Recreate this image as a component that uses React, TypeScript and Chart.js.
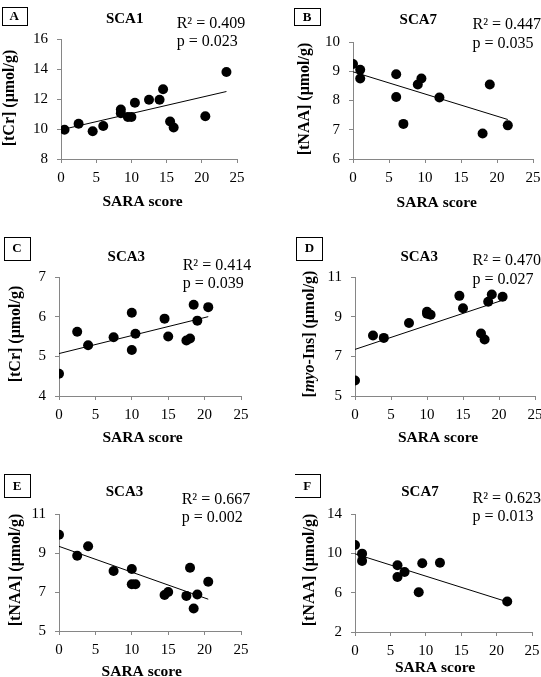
import React, { useEffect, useRef } from "react";
import { Chart, registerables } from "chart.js";

Chart.register(...registerables);

const SERIF = "'Liberation Serif', 'Times New Roman', Times, serif";
const AXIS_GRAY = "#868686";

// ---- data ----
const X_MIN = 0;
const X_MAX = 25;
const X_STEP = 5;

const A_SARA = [0.5, 2.5, 4.5, 6, 8.5, 8.5, 9.5, 10, 10.5, 12.5, 14, 14.5, 15.5, 16, 20.5, 23.5];
const A_TCR = [9.95, 10.35, 9.85, 10.2, 11.3, 11.05, 10.8, 10.8, 11.75, 11.95, 11.95, 12.65, 10.5, 10.1, 10.85, 13.8];
const A_FIT_X = [0.5, 23.5];
const A_FIT_Y = [10.0, 12.5];
const A_Y_TICKS = [8, 16, 2];

const B_SARA = [0, 1, 1, 6, 6, 7, 9, 9.5, 12, 18, 19, 21.5];
const B_TNAA = [9.25, 9.05, 8.75, 8.9, 8.12, 7.2, 8.55, 8.75, 8.1, 6.87, 8.55, 7.15];
const B_FIT_X = [0, 21.5];
const B_FIT_Y = [8.98, 7.35];
const B_Y_TICKS = [6, 10, 1];

const C_SARA = [0, 2.5, 4, 7.5, 10, 10, 10.5, 14.5, 15, 17.5, 18, 18.5, 19, 20.5];
const C_TCR = [4.56, 5.62, 5.28, 5.48, 6.1, 5.16, 5.57, 5.95, 5.5, 5.4, 5.45, 6.3, 5.9, 6.24];
const C_FIT_X = [0, 20.5];
const C_FIT_Y = [5.07, 6.0];
const C_Y_TICKS = [4, 7, 1];

const D_SARA = [0, 2.5, 4, 7.5, 10, 10, 10.5, 14.5, 15, 17.5, 18, 18.5, 19, 20.5];
const D_MYO = [5.78, 8.05, 7.93, 8.68, 9.25, 9.15, 9.1, 10.05, 9.42, 8.15, 7.85, 9.75, 10.12, 10.0];
const D_FIT_X = [0, 20.5];
const D_FIT_Y = [7.35, 9.83];
const D_Y_TICKS = [5, 11, 2];

const E_SARA = [0, 2.5, 4, 7.5, 10, 10, 10.5, 14.5, 15, 17.5, 18, 18.5, 19, 20.5];
const E_TNAA = [9.94, 8.86, 9.35, 8.08, 8.18, 7.4, 7.4, 6.85, 7.0, 6.8, 8.24, 6.15, 6.87, 7.53];
const E_FIT_X = [0, 20.5];
const E_FIT_Y = [9.34, 6.63];
const E_Y_TICKS = [5, 11, 2];

const F_SARA = [0, 1, 1, 6, 6, 7, 9, 9.5, 12, 21.5];
const F_TNAA = [10.85, 9.97, 9.23, 8.78, 7.6, 8.1, 6.05, 9.0, 9.05, 5.1];
const F_FIT_X = [0, 21.5];
const F_FIT_Y = [9.95, 5.07];
const F_Y_TICKS = [2, 14, 4];

const X_TITLE = "SARA score";

type Seg = { text: string; italic?: boolean };

type Panel = {
  letter: string;
  title: string;
  r2: string;
  p: string;
  yTitle: Seg[];
  xs: number[];
  ys: number[];
  fitX: number[];
  fitY: number[];
  yTicks: number[];
  plot: { l: number; r: number; t: number; b: number };
  box: number[];
  titlePos: number[];
  statPos: number[];
  yTitlePos: number[];
  xTitlePos: number[];
};

const PANELS: Panel[] = [
  {
    letter: "A", title: "SCA1", r2: "0.409", p: "0.023",
    yTitle: [{ text: "[tCr] (μmol/g)" }],
    xs: A_SARA, ys: A_TCR, fitX: A_FIT_X, fitY: A_FIT_Y, yTicks: A_Y_TICKS,
    plot: { l: 61, r: 237, t: 39, b: 159 },
    box: [1.5, 7, 26, 25], titlePos: [124.7, 19], statPos: [176.7, 23.3, 41.7],
    yTitlePos: [10, 98], xTitlePos: [142.5, 201.7],
  },
  {
    letter: "B", title: "SCA7", r2: "0.447", p: "0.035",
    yTitle: [{ text: "[tNAA] (μmol/g)" }],
    xs: B_SARA, ys: B_TNAA, fitX: B_FIT_X, fitY: B_FIT_Y, yTicks: B_Y_TICKS,
    plot: { l: 353, r: 533, t: 42, b: 159 },
    box: [293.5, 8, 319.5, 25], titlePos: [418.3, 20], statPos: [472.5, 24.3, 43.3],
    yTitlePos: [305, 99], xTitlePos: [436.7, 202.7],
  },
  {
    letter: "C", title: "SCA3", r2: "0.414", p: "0.039",
    yTitle: [{ text: "[tCr] (μmol/g)" }],
    xs: C_SARA, ys: C_TCR, fitX: C_FIT_X, fitY: C_FIT_Y, yTicks: C_Y_TICKS,
    plot: { l: 59, r: 241, t: 277, b: 396 },
    box: [3.5, 236.5, 29.5, 259], titlePos: [126.3, 256.7], statPos: [182.7, 265.7, 284],
    yTitlePos: [15.7, 334], xTitlePos: [142.5, 437.5],
  },
  {
    letter: "D", title: "SCA3", r2: "0.470", p: "0.027",
    yTitle: [{ text: "[" }, { text: "myo", italic: true }, { text: "-Ins] (μmol/g)" }],
    xs: D_SARA, ys: D_MYO, fitX: D_FIT_X, fitY: D_FIT_Y, yTicks: D_Y_TICKS,
    plot: { l: 355, r: 535, t: 277, b: 396 },
    box: [296, 236.5, 322, 259], titlePos: [419.2, 256.7], statPos: [472.5, 261, 279.3],
    yTitlePos: [310, 334], xTitlePos: [438, 437.5],
  },
  {
    letter: "E", title: "SCA3", r2: "0.667", p: "0.002",
    yTitle: [{ text: "[tNAA] (μmol/g)" }],
    xs: E_SARA, ys: E_TNAA, fitX: E_FIT_X, fitY: E_FIT_Y, yTicks: E_Y_TICKS,
    plot: { l: 59, r: 241, t: 514, b: 631 },
    box: [3.5, 474, 29.5, 497], titlePos: [124.5, 491.7], statPos: [181.7, 499.3, 517.7],
    yTitlePos: [15.7, 570], xTitlePos: [141.7, 671.7],
  },
  {
    letter: "F", title: "SCA7", r2: "0.623", p: "0.013",
    yTitle: [{ text: "[tNAA] (μmol/g)" }],
    xs: F_SARA, ys: F_TNAA, fitX: F_FIT_X, fitY: F_FIT_Y, yTicks: F_Y_TICKS,
    plot: { l: 355, r: 532, t: 514, b: 632 },
    box: [294, 474, 319.5, 497], titlePos: [420, 491.7], statPos: [472.5, 498.3, 516.7],
    yTitlePos: [310, 570], xTitlePos: [435, 668.3],
  },
];

const PAD_L = 60; // y-scale width
const PAD_T = 45;
const PAD_R = 25;
const X_SCALE_H = 52;
const PAD_B = 8;

function canvasGeom(p: Panel) {
  const left = p.plot.l - PAD_L;
  const top = p.plot.t - PAD_T;
  const width = p.plot.r - p.plot.l + PAD_L + PAD_R;
  const height = p.plot.b - p.plot.t + PAD_T + X_SCALE_H + PAD_B;
  return { left, top, width, height };
}

function makeChart(canvas: HTMLCanvasElement, p: Panel) {
  const g = canvasGeom(p);
  const ox = g.left;
  const oy = g.top;
  const points = p.xs.map((x, i) => ({ x, y: p.ys[i] }));
  const fit = p.fitX.map((x, i) => ({ x, y: p.fitY[i] }));

  const textPlugin = {
    id: "panelText" + p.letter,
    afterDraw(chart: any) {
      const ctx: CanvasRenderingContext2D = chart.ctx;
      ctx.save();
      ctx.fillStyle = "#000";
      ctx.strokeStyle = "#000";
      ctx.lineWidth = 1;
      // letter box
      const [bx1, by1, bx2, by2] = p.box;
      ctx.strokeRect(Math.round(bx1 - ox) + 0.5, Math.round(by1 - oy) + 0.5, Math.round(bx2 - bx1), Math.round(by2 - by1));
      ctx.font = `bold 13px ${SERIF}`;
      ctx.textAlign = "center";
      ctx.textBaseline = "middle";
      ctx.fillText(p.letter, (bx1 + bx2) / 2 - ox + 0.5, (by1 + by2) / 2 - oy + 1);
      // title
      ctx.font = `bold 15px ${SERIF}`;
      ctx.fillText(p.title, p.titlePos[0] - ox, p.titlePos[1] - oy);
      // stats
      ctx.font = `16px ${SERIF}`;
      ctx.textAlign = "left";
      ctx.fillText(`R² = ${p.r2}`, p.statPos[0] - ox, p.statPos[1] - oy);
      ctx.fillText(`p = ${p.p}`, p.statPos[0] - ox, p.statPos[2] - oy);
      // x title
      ctx.font = `bold 15.5px ${SERIF}`;
      ctx.textAlign = "center";
      ctx.fillText(X_TITLE, p.xTitlePos[0] - ox, p.xTitlePos[1] - oy);
      // y title (rotated, possibly mixed italic)
      ctx.translate(p.yTitlePos[0] - ox, p.yTitlePos[1] - oy);
      ctx.rotate(-Math.PI / 2);
      ctx.textAlign = "left";
      const fontFor = (s: Seg) => `${s.italic ? "italic " : ""}bold 16px ${SERIF}`;
      let total = 0;
      const widths = p.yTitle.map((s) => {
        ctx.font = fontFor(s);
        const w = ctx.measureText(s.text).width;
        total += w;
        return w;
      });
      let cx = -total / 2;
      p.yTitle.forEach((s, i) => {
        ctx.font = fontFor(s);
        ctx.fillText(s.text, cx, 0);
        cx += widths[i];
      });
      ctx.restore();
    },
  };

  return new Chart(canvas, {
    type: "scatter",
    data: {
      datasets: [
        {
          data: fit,
          showLine: true,
          borderColor: "#000",
          borderWidth: 1,
          pointRadius: 0,
          fill: false,
        },
        {
          data: points,
          backgroundColor: "#000",
          borderColor: "#000",
          pointRadius: 5,
          pointBorderWidth: 0,
        },
      ],
    },
    options: {
      responsive: false,
      animation: false,
      events: [],
      layout: { padding: { left: 0, top: PAD_T, right: PAD_R, bottom: PAD_B } },
      plugins: { legend: { display: false }, tooltip: { enabled: false }, title: { display: false } },
      scales: {
        x: {
          type: "linear",
          min: X_MIN,
          max: X_MAX,
          ticks: { stepSize: X_STEP, color: "#000", font: { family: SERIF, size: 15 }, padding: 6, maxRotation: 0 },
          grid: { drawOnChartArea: false, drawTicks: true, tickLength: 4, color: AXIS_GRAY },
          border: { display: true, color: AXIS_GRAY, width: 1 },
          afterFit: (s: any) => { s.height = X_SCALE_H; },
        },
        y: {
          type: "linear",
          min: p.yTicks[0],
          max: p.yTicks[1],
          ticks: { stepSize: p.yTicks[2], color: "#000", font: { family: SERIF, size: 15 }, padding: 9 },
          grid: { drawOnChartArea: false, drawTicks: true, tickLength: 4, color: AXIS_GRAY },
          border: { display: true, color: AXIS_GRAY, width: 1 },
          afterFit: (s: any) => { s.width = PAD_L; },
        },
      },
    },
    plugins: [textPlugin],
  } as any);
}

export default function App() {
  const refs = useRef<(HTMLCanvasElement | null)[]>([]);

  useEffect(() => {
    const charts = PANELS.map((p, i) => makeChart(refs.current[i] as HTMLCanvasElement, p));
    return () => charts.forEach((c) => c.destroy());
  }, []);

  return (
    <div
      style={{
        position: "absolute",
        left: 0,
        top: 0,
        width: 541,
        height: 677,
        overflow: "hidden",
        background: "#fff",
      }}
    >
      {PANELS.map((p, i) => {
        const g = canvasGeom(p);
        return (
          <canvas
            key={p.letter}
            ref={(el) => { refs.current[i] = el; }}
            width={g.width}
            height={g.height}
            style={{ position: "absolute", left: g.left, top: g.top, width: g.width, height: g.height }}
          />
        );
      })}
    </div>
  );
}
